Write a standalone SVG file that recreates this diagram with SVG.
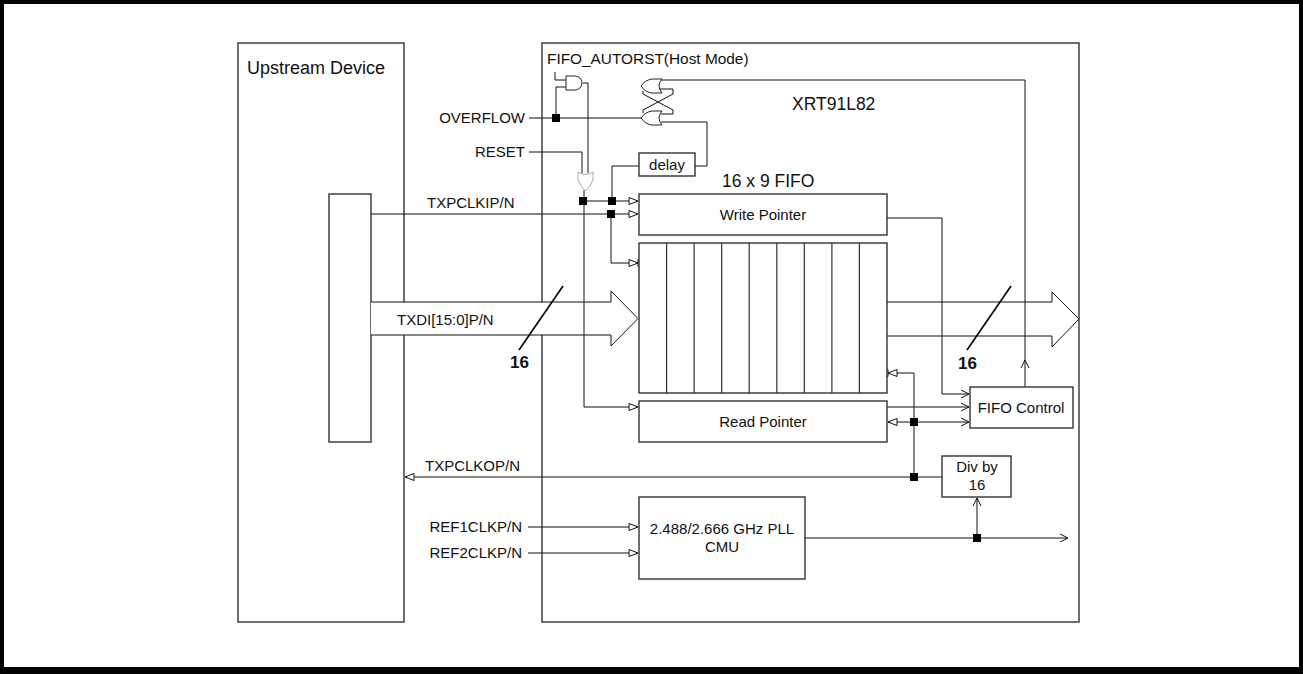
<svg xmlns="http://www.w3.org/2000/svg" width="1303" height="674" viewBox="0 0 1303 674">
<style>
.box{fill:#fff;stroke:#333;stroke-width:1.4}
.w{fill:none;stroke:#111;stroke-width:1}
.t{font-family:"Liberation Sans",Arial,sans-serif;font-size:15px;fill:#111}
.big{font-size:17.5px}
.b{font-family:"Liberation Sans",Arial,sans-serif;font-size:17px;font-weight:bold;fill:#111}
.jn{fill:#000}
.gate{fill:#fff;stroke:#222;stroke-width:1}
</style>
<defs>
<marker id="tri" markerUnits="userSpaceOnUse" markerWidth="12" markerHeight="10" refX="9" refY="3.5" orient="auto" overflow="visible">
<path d="M0,0 L9,3.5 L0,7 Z" fill="#fff" stroke="#111" stroke-width="1"/>
</marker>
<marker id="tri2" markerUnits="userSpaceOnUse" markerWidth="20" markerHeight="10" refX="9" refY="3.5" orient="auto" overflow="visible">
<path d="M0,0 L9,3.5 L0,7 Z M9,0 L17,3.5 L9,7 Z" fill="#fff" stroke="#111" stroke-width="1"/>
</marker>
<marker id="chev" markerUnits="userSpaceOnUse" markerWidth="10" markerHeight="10" refX="8" refY="4" orient="auto" overflow="visible">
<path d="M0,0 L8,4 L0,8" fill="none" stroke="#111" stroke-width="1"/>
</marker>
</defs>
<rect x="0" y="0" width="1303" height="674" fill="#000"/>
<rect x="4" y="4" width="1295" height="663" fill="#fff"/>

<g id="upstream"><rect class="box" x="238" y="43" width="166" height="579"/><text class="t" style="font-size:18px" x="247" y="74">Upstream Device</text></g>
<g id="xrt"><rect class="box" x="542" y="43" width="537" height="579"/><text class="t big" x="792" y="110">XRT91L82</text></g>
<g id="inner"><rect class="box" x="329" y="194" width="42" height="248"/></g>

<g id="connectors">
<polygon points="371,302 611,302 611,291 638,318.5 611,346 611,335 371,335" fill="#fff" stroke="none"/>
<polyline class="w" points="371,302 611,302 611,291 638,318.5 611,346 611,335 371,335"/>
<polygon points="887,302 1052,302 1052,292 1079,319 1052,347 1052,336 887,336" fill="#fff" stroke="none"/>
<polyline class="w" points="887,302 1052,302 1052,292 1079,319 1052,347 1052,336 887,336"/>
<line x1="563" y1="286" x2="519" y2="350" stroke="#000" stroke-width="1.6"/>
<line x1="1011" y1="286" x2="967" y2="350" stroke="#000" stroke-width="1.6"/>

<polyline class="w" points="555,72 555,80 566,80"/>
<polyline class="w" points="566,87 556,87 556,118"/>
<polyline class="w" points="583,83 588,83 588,173"/>
<polyline class="w" points="529,152 582,152 582,173"/>
<line class="w" x1="529" y1="118" x2="642" y2="118"/>
<polyline class="w" points="1025,387 1025,80 660,80"/>
<polyline class="w" points="643,91 643,94 673,110 673,114 661,114"/>
<polyline class="w" points="660,89 673,89 673,94 643,110 643,113"/>
<polyline class="w" points="695,166 707,166 707,122 661,122"/>
<polyline class="w" points="639,166 612,166 612,201"/>
<line class="w" x1="584" y1="190" x2="584" y2="201"/>
<polyline class="w" points="584,201 584,407 638,407" marker-end="url(#tri)"/>
<line class="w" x1="584" y1="201" x2="638" y2="201" marker-end="url(#tri)"/>
<line class="w" x1="371" y1="214" x2="638" y2="214" marker-end="url(#tri)"/>
<polyline class="w" points="611,214 611,263 638,263" marker-end="url(#tri2)"/>

<polyline class="w" points="887,218 942,218 942,394 969,394" marker-end="url(#chev)"/>
<line class="w" x1="887" y1="407" x2="969" y2="407" marker-end="url(#chev)"/>
<line class="w" x1="914" y1="422" x2="969" y2="422" marker-end="url(#chev)"/>
<line class="w" x1="914" y1="422" x2="888" y2="422" marker-end="url(#tri)"/>
<line class="w" x1="914" y1="373" x2="914" y2="477"/>
<line class="w" x1="914" y1="373" x2="888" y2="373" marker-end="url(#tri2)"/>
<polyline class="w" points="1021,368 1025,360 1029,368"/>
<line class="w" x1="942" y1="477" x2="405" y2="477" marker-end="url(#tri)"/>
<line class="w" x1="977" y1="538" x2="977" y2="498" marker-end="url(#chev)"/>
<line class="w" x1="805" y1="538" x2="1068" y2="538" marker-end="url(#chev)"/>
<line class="w" x1="528" y1="527" x2="638" y2="527" marker-end="url(#tri)"/>
<line class="w" x1="528" y1="553" x2="638" y2="553" marker-end="url(#tri)"/>

<rect class="jn" x="552" y="114" width="8" height="8"/>
<rect class="jn" x="579" y="197" width="8" height="8"/>
<rect class="jn" x="608" y="197" width="8" height="8"/>
<rect class="jn" x="607" y="210" width="8" height="8"/>
<rect class="jn" x="910" y="418" width="8" height="8"/>
<rect class="jn" x="910" y="473" width="8" height="8"/>
<rect class="jn" x="973" y="534" width="8" height="8"/>
</g>

<g id="and-gate"><path class="gate" d="M566,76 L575,76 A7,7 0 0 1 575,90 L566,90 Z"/></g>
<g id="or-reset"><path d="M578,172 Q585.5,177 593,172 L593,180 Q590,187 585.5,191 Q581,187 578,180 Z" fill="#fff" stroke="#aaa" stroke-width="1"/></g>
<g id="latch-upper"><path class="gate" d="M662,79 Q656,86 662,93 L652,93 Q645,92 641,86 Q645,80 652,79 Z"/></g>
<g id="latch-lower"><path class="gate" d="M662,111 Q656,118 662,125 L652,125 Q645,124 641,118 Q645,112 652,111 Z"/></g>

<g id="delay"><rect class="box" x="639" y="153" width="56" height="23"/><text class="t" x="667" y="170" text-anchor="middle">delay</text></g>
<g id="write-pointer"><rect class="box" x="639" y="194" width="248" height="41"/><text class="t" x="763" y="220" text-anchor="middle">Write Pointer</text></g>
<g id="fifo">
<rect class="box" x="639" y="243" width="248" height="150"/>
<path fill="none" stroke="#333" stroke-width="1.2" d="M666.6,243V393M694.1,243V393M721.7,243V393M749.2,243V393M776.8,243V393M804.3,243V393M831.9,243V393M859.4,243V393"/>
<text class="t big" x="722" y="187">16 x 9 FIFO</text>
</g>
<g id="read-pointer"><rect class="box" x="639" y="401" width="248" height="41"/><text class="t" x="763" y="427" text-anchor="middle">Read Pointer</text></g>
<g id="fifo-control"><rect class="box" x="970" y="387" width="103" height="41"/><text class="t" x="1021" y="413" text-anchor="middle">FIFO Control</text></g>
<g id="div16"><rect class="box" x="942" y="456" width="69" height="41"/><text class="t" x="977" y="472" text-anchor="middle">Div by</text><text class="t" x="977" y="490" text-anchor="middle">16</text></g>
<g id="pll"><rect class="box" x="639" y="497" width="166" height="82"/><text class="t" x="722" y="534" text-anchor="middle">2.488/2.666 GHz PLL</text><text class="t" x="722" y="552" text-anchor="middle">CMU</text></g>

<g id="labels">
<text class="t" style="font-size:15.4px" x="547" y="64">FIFO_AUTORST(Host Mode)</text>
<text class="t" x="525" y="123" text-anchor="end">OVERFLOW</text>
<text class="t" x="525" y="157" text-anchor="end">RESET</text>
<text class="t" x="427" y="208">TXPCLKIP/N</text>
<text class="t" x="397" y="325">TXDI[15:0]P/N</text>
<text class="b" x="510" y="368">16</text>
<text class="b" x="958" y="369">16</text>
<text class="t" x="425" y="471">TXPCLKOP/N</text>
<text class="t" x="522" y="532" text-anchor="end">REF1CLKP/N</text>
<text class="t" x="522" y="558" text-anchor="end">REF2CLKP/N</text>
</g>
</svg>
